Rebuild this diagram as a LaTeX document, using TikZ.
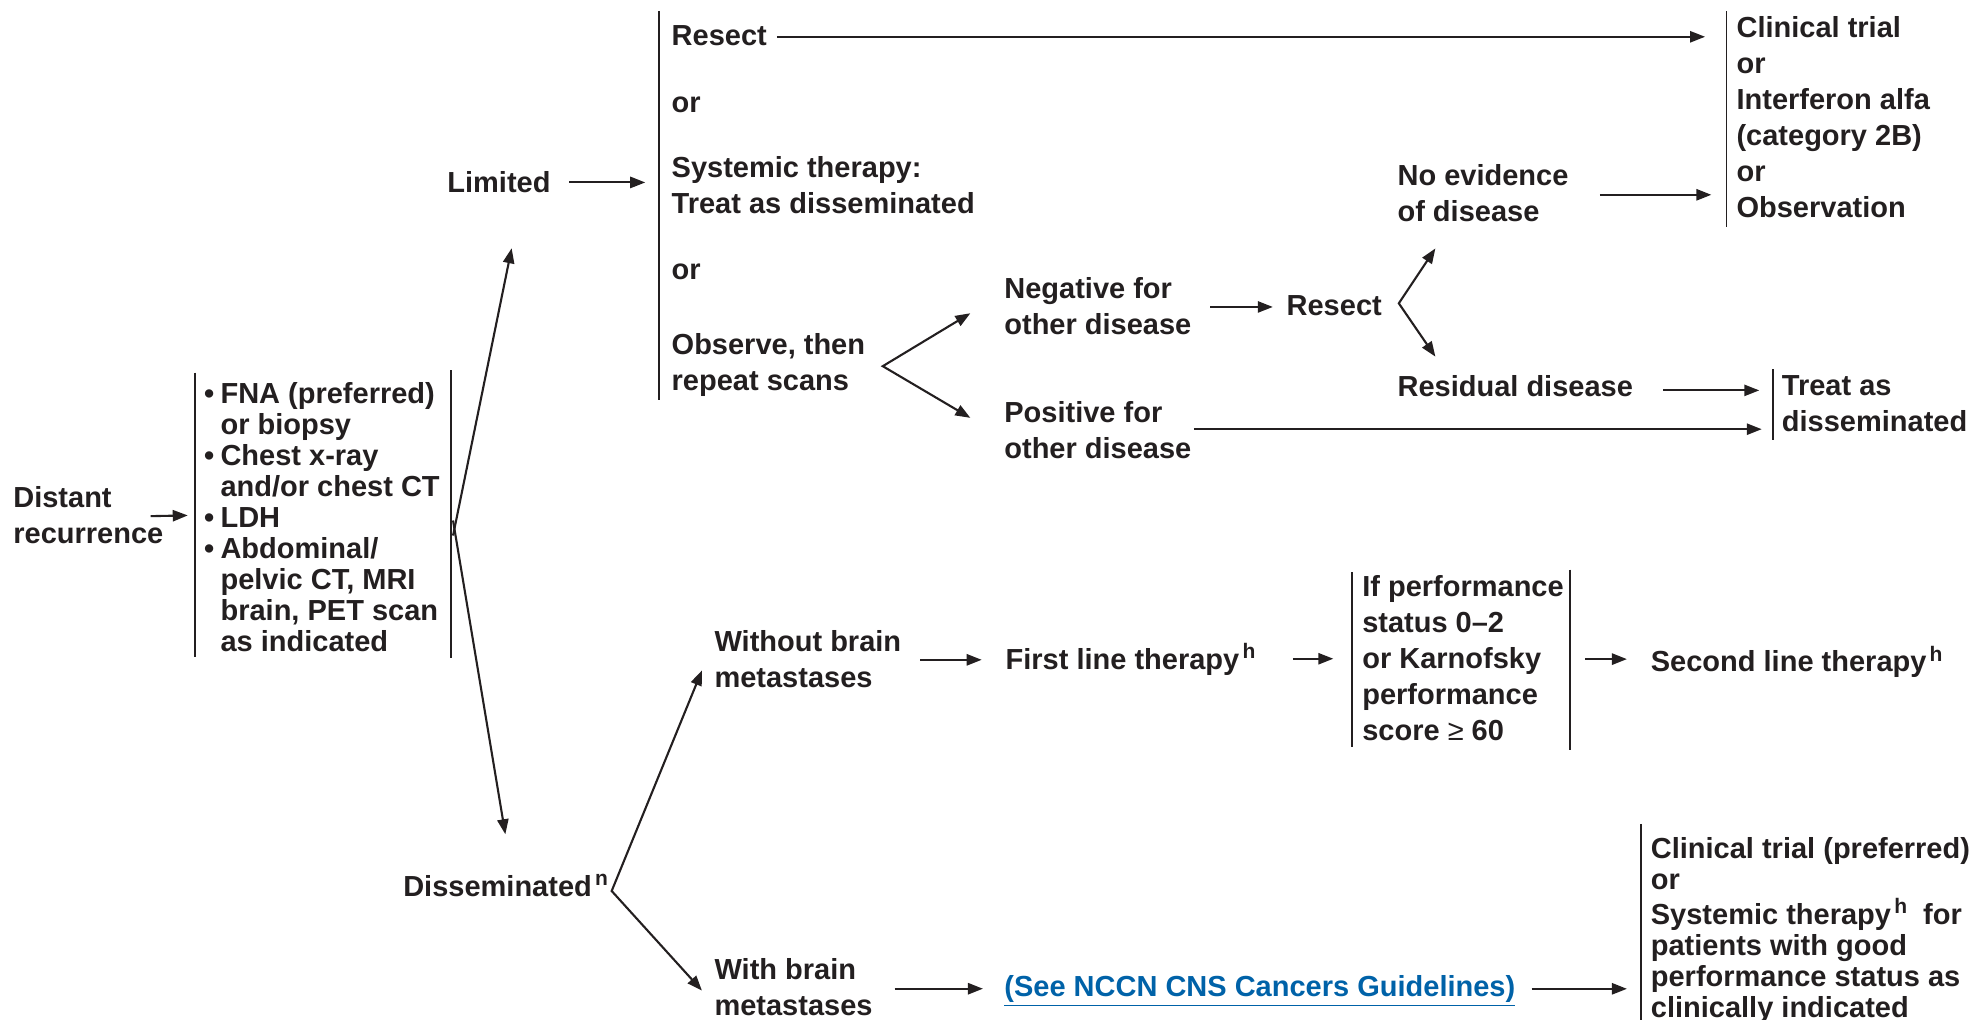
\documentclass[tikz,border=0pt]{standalone}
\usepackage{fontspec}
\setmainfont{Liberation Sans}
\usetikzlibrary{arrows.meta,calc}
\definecolor{ink}{RGB}{35,31,32}
\definecolor{linkblue}{RGB}{0,98,168}
% stacked lines whose baseline is the first line's baseline
\newcommand\txtrows[1]{\begin{tabular}[t]{@{}l@{}}#1\end{tabular}}
\newcommand\bul{\makebox[8.2pt][l]{\textbullet}}
\newcommand\ind{\hspace*{8.2pt}}
% footnote marks
\newcommand\fnmark[1]{\hspace{1.6pt}\raisebox{5.2pt}{\fontsize{10.5}{10.5}\selectfont #1}}

\begin{document}
\begin{tikzpicture}[x=0.63pt,y=-0.63pt,
  lbl/.style={anchor=base west,inner sep=0pt,outer sep=0pt,text=ink,
              font=\fontsize{14.5}{18}\selectfont\bfseries},
  tight/.style={lbl,font=\fontsize{14.5}{15.5}\selectfont\bfseries},
  tip/.tip={Triangle[length=7.5pt,width=5.6pt]},
  arr/.style={draw=ink,line width=1.05pt,-tip},
  both/.style={draw=ink,line width=1.05pt,tip-tip},
  bar/.style={draw=ink,line width=0.85pt}]
\useasboundingbox (0,0) rectangle (1568,809);

% ---- text blocks ----
\node[lbl] (dist) at (10.6,403) {\txtrows{Distant\\recurrence}};
\node[tight] (tests) at (162,320) {\txtrows{\bul FNA (preferred)\\\ind or biopsy\\\bul Chest x-ray\\\ind and/or chest CT\\\bul LDH\\\bul Abdominal/\\\ind pelvic CT, MRI\\\ind brain, PET scan\\\ind as indicated}};
\node[lbl] (lim) at (355,153) {Limited};
\node[lbl] (dis) at (320,711) {Disseminated\fnmark{n}};

\node[lbl] (res1) at (533,36) {Resect};
\node[lbl] (or1) at (533,89) {or};
\node[lbl] (sys) at (533,141) {\txtrows{Systemic therapy:\\Treat as disseminated}};
\node[lbl] (or2) at (533,222) {or};
\node[lbl] (obs) at (533,281) {\txtrows{Observe, then\\repeat scans}};

\node[lbl] (ct) at (1378,30) {\txtrows{Clinical trial\\or\\Interferon alfa\\(category 2B)\\or\\Observation}};
\node[lbl] (noev) at (1109,147) {\txtrows{No evidence\\of disease}};
\node[lbl] (neg) at (797,237) {\txtrows{Negative for\\other disease}};
\node[lbl] (res2) at (1021,250) {Resect};
\node[lbl] (resid) at (1109,315) {Residual disease};
\node[lbl] (pos) at (797,335) {\txtrows{Positive for\\other disease}};
\node[lbl] (tad) at (1414,314) {\txtrows{Treat as\\disseminated}};

\node[lbl] (wo) at (567,517) {\txtrows{Without brain\\metastases}};
\node[lbl] (flt) at (798,531) {First line therapy\fnmark{h}};
\node[lbl] (perf) at (1081,473) {\txtrows{If performance\\status 0–2\\or Karnofsky\\performance\\score {\mdseries ≥} 60}};
\node[lbl] (slt) at (1310,533) {Second line therapy\fnmark{h}};
\node[lbl] (wb) at (567,777) {\txtrows{With brain\\metastases}};
\node[lbl,text=linkblue] (nccn) at (797,791) {\underline{(See NCCN CNS Cancers Guidelines)}};
\node[tight] (fin) at (1310,681) {\txtrows{Clinical trial (preferred)\\or\\Systemic therapy\fnmark{h}\ \ for\\patients with good\\performance status as\\clinically indicated}};

% ---- bracket bars ----
\draw[bar] ($(tests.north west)+(-7,-7)$) -- ($(tests.south west)+(-7,-3)$);
\draw[bar] ($(tests.north west)+(196,-9)$) -- ($(tests.south west)+(196,-2)$);
\draw[bar] ($(res1.north west)+(-10,-11.5)$) -- ($(obs.south west)+(-10,-1)$);
\draw[bar] ($(ct.north west)+(-8,-1)$) -- ($(ct.south west)+(-8,-1.5)$);
\draw[bar] ($(tad.north west)+(-7,-1)$) -- ($(tad.south west)+(-7,-2)$);
\draw[bar] ($(perf.north west)+(-8,1)$) -- ($(perf.south west)+(-8,-3)$);
\draw[bar] ($(perf.north west)+(165,-1)$) -- ($(perf.south west)+(165,-1)$);
\draw[bar] ($(fin.north west)+(-8,-10)$) -- ($(fin.south west)+(-8,6)$);

% ---- connectors ----
\draw[arr] ($(dist.east)+(-10,-2)$) -- ($(tests.west)+(-13,-4.5)$);
\coordinate (tfork) at ($(tests.west)+(199,5.5)$);
\draw[arr] ($(tfork)+(-1.5,6)$) -- ($(lim.base west)+(51,44)$);
\draw[arr] ($(tfork)+(-1.5,-6)$) -- ($(dis.base west)+(81,-49)$);

\draw[arr] ($(lim.east)+(15,0)$) -- ($(lim.east -| res1.west)+(-21,0)$);
\draw[arr] ($(res1.east)+(8,1)$) -- ($(res1.east -| ct.west)+(-25,1)$);
\draw[arr] ($(noev.east)+(25,-1)$) -- ($(noev.east -| ct.west)+(-20,-1)$);

\coordinate (ofork) at ($(obs.east)+(14,1)$);
\draw[both] ($(neg.west)+(-27,3)$) -- (ofork) -- ($(pos.west)+(-27,-12)$);
\draw[arr] ($(neg.east)+(15,-2)$) -- ($(neg.east -| res2.west)+(-11,-2)$);
\coordinate (rfork) at ($(res2.east)+(13.5,-1.5)$);
\draw[both] ($(noev.south west)+(30,13)$) -- (rfork) -- ($(resid.base west)+(30,-32)$);
\draw[arr] ($(resid.east)+(24,3)$) -- ($(resid.east -| tad.west)+(-18,3)$);
\draw[arr] ($(pos.east)+(2,-3)$) -- ($(pos.east -| tad.west)+(-16,-3)$);

\coordinate (dfork) at ($(dis.base east)+(3,-4)$);
\draw[both] ($(wo.base west)+(-10,15)$) -- (dfork) -- ($(wb.base west)+(-10,9)$);
\draw[arr] ($(wo.east)+(15,-2)$) -- ($(wo.east -| flt.west)+(-19,-2)$);
\draw[arr] ($(flt.east -| perf.west)+(-55,-0.5)$) -- ($(flt.east -| perf.west)+(-23,-0.5)$);
\draw[arr] ($(perf.east)+(17,-1.4)$) -- ($(perf.east -| slt.west)+(-19,-1.4)$);
\draw[arr] ($(wb.east)+(17.6,-1)$) -- ($(wb.east -| nccn.west)+(-17,-1)$);
\draw[arr] ($(nccn.east)+(13,-2)$) -- ($(nccn.east -| fin.west)+(-19,-2)$);
\end{tikzpicture}
\end{document}
